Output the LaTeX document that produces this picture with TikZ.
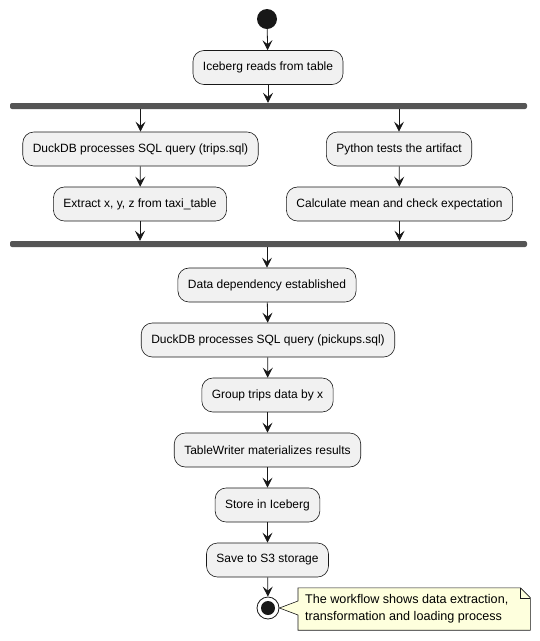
\documentclass[tikz,border=0pt]{standalone}
\usepackage{fontspec}
\setmainfont{Liberation Sans}
\usetikzlibrary{arrows.meta}
\definecolor{boxfill}{HTML}{F1F1F1}
\definecolor{boxline}{HTML}{181818}
\definecolor{barcol}{HTML}{555555}
\definecolor{notefill}{HTML}{FEFFDD}
\tikzset{
  act/.style={draw=boxline, line width=0.6pt, fill=boxfill, rounded corners=11pt,
    minimum height=34pt, inner xsep=10pt, font=\fontsize{12}{14}\selectfont, text=black},
  bar/.style={fill=barcol, draw=none, minimum height=6pt, inner sep=0pt, rounded corners=2pt},
  arr/.style={draw=boxline, line width=0.8pt, -{Stealth[length=10pt,width=10pt,inset=4pt]}},
  notetext/.style={inner xsep=7pt, inner ysep=3pt, align=left, font=\fontsize{12.6}{17}\selectfont}
}
\begin{document}
\begin{tikzpicture}[x=1pt,y=-1pt]
\useasboundingbox (0,0) rectangle (540,641);
\node[circle, fill=boxline, minimum size=20pt, inner sep=0pt] (start) at (267,19) {};
\node[act] (b1) at (268,67.5) {Iceberg reads from table};
\node[bar, minimum width=517pt] (fork1) at (268.5,106) {};
\node[act] (l1) at (140.5,149) {DuckDB processes SQL query (trips.sql)};
\node[act] (l2) at (140,204) {Extract x, y, z from taxi\_table};
\node[act] (r1) at (399,149) {Python tests the artifact};
\node[act] (r2) at (399.5,204) {Calculate mean and check expectation};
\node[bar, minimum width=517pt] (join1) at (268.5,244) {};
\node[act] (c1) at (267,285) {Data dependency established};
\node[act] (c2) at (268,340) {DuckDB processes SQL query (pickups.sql)};
\node[act] (c3) at (267.5,395) {Group trips data by x};
\node[act] (c4) at (267.5,450) {TableWriter materializes results};
\node[act] (c5) at (267.5,505) {Store in Iceberg};
\node[act] (c6) at (267.5,560) {Save to S3 storage};
\node[circle, draw=boxline, line width=0.8pt, fill=white, minimum size=22pt, inner sep=0pt] (stop) at (268,608) {};
\node[circle, fill=boxline, minimum size=14pt, inner sep=0pt] at (stop) {};
\node[draw=none, inner sep=0pt, minimum width=232pt, minimum height=42pt, anchor=west] (note) at (298,609) {};
\draw[boxline, line width=0.6pt, fill=notefill] (note.south west) -- (note.west |- 0,615) -- (stop.east) -- (note.west |- 0,601) -- (note.north west) -- ([xshift=-10pt]note.north east) -- ([yshift=-10pt]note.north east) -- (note.south east) -- cycle;
\draw[boxline, line width=0.6pt] ([xshift=-10pt]note.north east) -- ([xshift=-10pt,yshift=-10pt]note.north east) -- ([yshift=-10pt]note.north east);
\node[notetext, anchor=west] (notetxt) at (note.west) {The workflow shows data extraction,\\transformation and loading process};
\draw[arr] (start) -- (b1);
\draw[arr] (b1) -- (b1 |- fork1.north);
\draw[arr] (fork1.south -| l1) -- (l1);
\draw[arr] (fork1.south -| r1) -- (r1);
\draw[arr] (l1) -- (l2);
\draw[arr] (r1) -- (r2);
\draw[arr] (l2) -- (l2 |- join1.north);
\draw[arr] (r2) -- (r2 |- join1.north);
\draw[arr] (join1.south -| c1) -- (c1);
\draw[arr] (c1) -- (c2);
\draw[arr] (c2) -- (c3);
\draw[arr] (c3) -- (c4);
\draw[arr] (c4) -- (c5);
\draw[arr] (c5) -- (c6);
\draw[arr] (c6) -- (stop);
\end{tikzpicture}
\end{document}
